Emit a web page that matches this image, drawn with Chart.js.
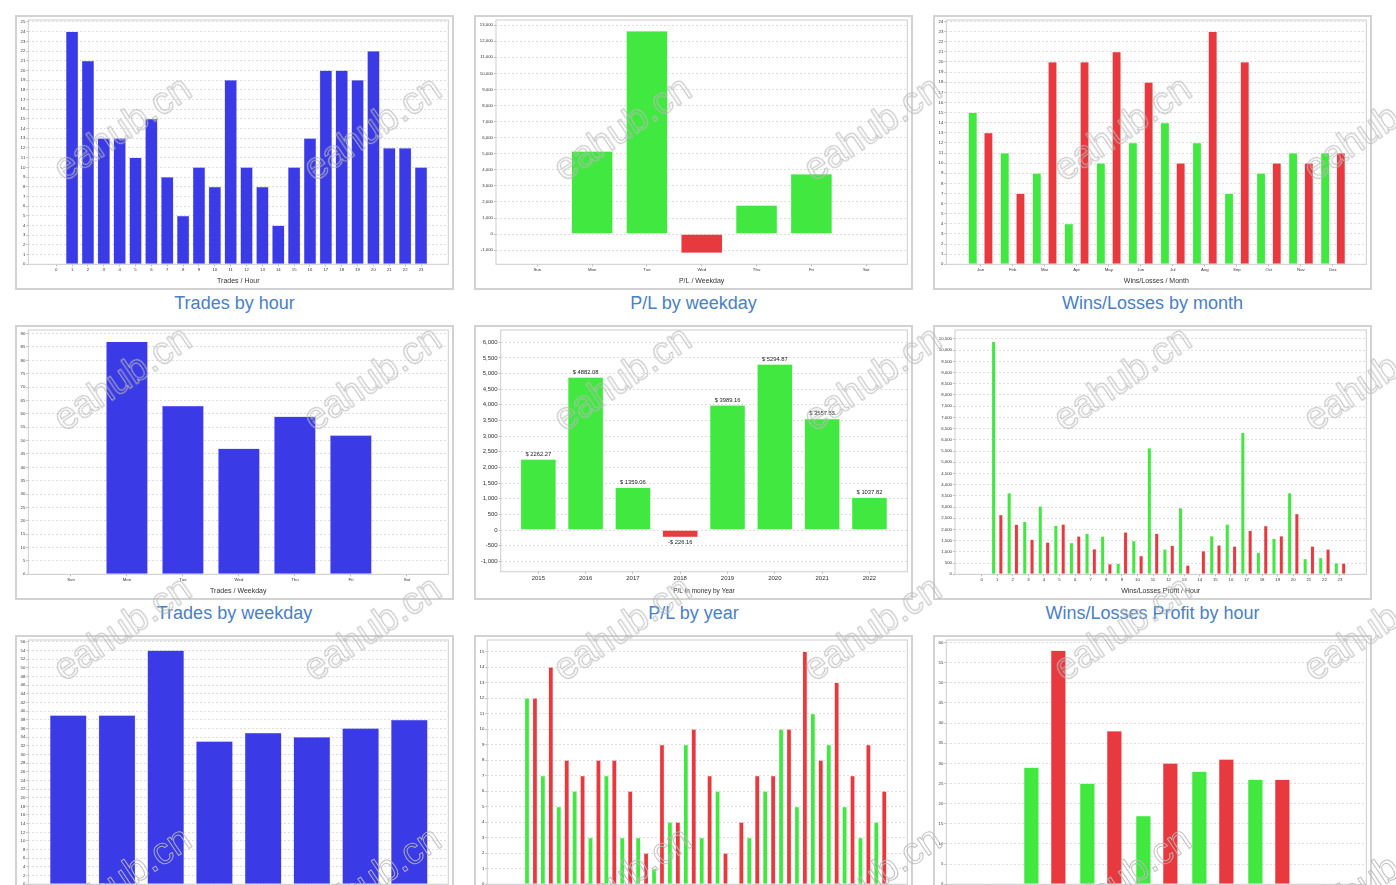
<!DOCTYPE html>
<html>
<head>
<meta charset="utf-8">
<title>Trade statistics</title>
<script src="https://cdn.jsdelivr.net/npm/chart.js@4.4.0/dist/chart.umd.min.js"></script>
<style>
body { margin:0; background:#fff; width:1396px; height:885px; overflow:hidden; position:relative; font-family:"Liberation Sans", Arial, sans-serif; }
.panel { position:absolute; width:439px; height:275px; box-sizing:border-box; border:2px solid #d2d2d2; background:#fff; }
.panel canvas { position:absolute; left:0; top:0; }
.title { position:absolute; width:439px; text-align:center; font-size:18px; line-height:20px; color:#4a80c4; }
.wm { position:absolute; white-space:nowrap; font-size:38px; line-height:40px; color:transparent;
      -webkit-text-stroke:1px rgba(185,185,185,0.9); transform:translate(-50%,-50%) rotate(-34deg); pointer-events:none; }
</style>
</head>
<body>

<div class="panel" style="left:15px;top:15px"><canvas id="hourChart" width="435" height="271"></canvas></div>
<div class="title" style="left:15px;top:293px">Trades by hour</div>
<div class="panel" style="left:474px;top:15px"><canvas id="plWeekdayChart" width="435" height="271"></canvas></div>
<div class="title" style="left:474px;top:293px">P/L by weekday</div>
<div class="panel" style="left:933px;top:15px"><canvas id="wlMonthChart" width="435" height="271"></canvas></div>
<div class="title" style="left:933px;top:293px">Wins/Losses by month</div>

<div class="panel" style="left:15px;top:325px"><canvas id="weekdayChart" width="435" height="271"></canvas></div>
<div class="title" style="left:15px;top:603px">Trades by weekday</div>
<div class="panel" style="left:474px;top:325px"><canvas id="plYearChart" width="435" height="271"></canvas></div>
<div class="title" style="left:474px;top:603px">P/L by year</div>
<div class="panel" style="left:933px;top:325px"><canvas id="wlProfitHourChart" width="435" height="271"></canvas></div>
<div class="title" style="left:933px;top:603px">Wins/Losses Profit by hour</div>

<div class="panel" style="left:15px;top:635px"><canvas id="yearChart" width="435" height="271"></canvas></div>
<div class="title" style="left:15px;top:913px">Trades by year</div>
<div class="panel" style="left:474px;top:635px"><canvas id="wlHourChart" width="435" height="271"></canvas></div>
<div class="title" style="left:474px;top:913px">Wins/Losses by hour</div>
<div class="panel" style="left:933px;top:635px"><canvas id="wlWeekdayChart" width="435" height="271"></canvas></div>
<div class="title" style="left:933px;top:913px">Wins/Losses by weekday</div>

<script>
// 데이터
var hourLabels = ['0','1','2','3','4','5','6','7','8','9','10','11','12','13','14','15','16','17','18','19','20','21','22','23'];
var weekdayLabels = ['Sun','Mon','Tue','Wed','Thu','Fri','Sat'];
var monthLabels = ['Jan','Feb','Mar','Apr','May','Jun','Jul','Aug','Sep','Oct','Nov','Dec'];
var yearLabels = ['2015','2016','2017','2018','2019','2020','2021','2022'];

var tradesByHour = [0,24,21,13,13,11,15,9,5,10,8,19,10,8,4,10,13,20,20,19,22,12,12,10];
var plByWeekday = [0,5150,12630,-1180,1790,3740,0];
var winsByMonth = [15,11,9,4,10,12,14,12,7,9,11,11];
var lossesByMonth = [13,7,20,20,21,18,10,23,20,10,10,11];

var tradesByWeekday = [0,87,63,47,59,52,0];
var plByYear = [2262.27,4882.08,1359.06,-226.16,3989.16,5294.87,3557.55,1037.82];
var winProfitByHour = [0,10380,3630,2350,3040,2170,1400,1820,1700,480,1500,5630,1120,2960,0,1710,2230,6320,970,1590,3630,690,740,500];
var lossProfitByHour = [0,2650,2220,1550,1430,2230,1700,1130,460,1880,830,1820,1280,400,1040,1300,1250,1950,2160,1710,2700,1250,1120,490];

var tradesByYear = [39,39,54,33,35,34,36,38];
var winsByHour = [0,12,7,5,6,3,7,3,3,1,4,9,3,6,0,3,6,10,5,11,9,5,3,4];
var lossesByHour = [0,12,14,8,7,8,8,6,2,9,4,10,7,2,4,7,7,10,15,8,13,7,9,6];
var winsByWeekday = [0,29,25,17,28,26,0];
var lossesByWeekday = [0,58,38,30,31,26,0];

var FONT = '"Liberation Sans", Arial, sans-serif';
var BLUE = '#3a3ae6', BLUE_EDGE = '#a0a0f0';
var GREEN = '#40e840', GREEN_EDGE = '#aaf2aa';
var RED = '#e8393e', RED_EDGE = '#f2a8aa';

function plColor(ctx) { return ctx.raw < 0 ? RED : GREEN; }
function plEdge(ctx) { return ctx.raw < 0 ? RED_EDGE : GREEN_EDGE; }

//플롯 영역 테두리
var plotFrame = {
	id : 'plotFrame',
	beforeDatasetsDraw : function(chart) {
		var a = chart.chartArea, ctx = chart.ctx;
		ctx.save();
		ctx.strokeStyle = '#cdcdcd';
		ctx.lineWidth = 1;
		ctx.strokeRect(a.left, a.top, a.right - a.left, a.bottom - a.top);
		ctx.restore();
	}
};

//막대 위 금액 표시
var moneyLabels = {
	id : 'moneyLabels',
	afterDatasetsDraw : function(chart, args, opts) {
		if (!opts.show) return;
		var ctx = chart.ctx, meta = chart.getDatasetMeta(0), data = chart.data.datasets[0].data;
		ctx.save();
		ctx.font = '5.8px ' + FONT;
		ctx.fillStyle = '#222';
		ctx.textAlign = 'center';
		ctx.textBaseline = 'middle';
		meta.data.forEach(function(bar, i) {
			var v = data[i];
			var text = (v < 0 ? '-$ ' : '$ ') + Math.abs(v).toFixed(2);
			ctx.fillText(text, bar.x, v < 0 ? bar.y + 5 : bar.y - 5);
		});
		ctx.restore();
	}
};

function drawPanel(id, p) {
	var tickFont = p.tickFont || 4.3;
	var datasets = p.series.map(function(s) {
		return {
			data : s.data,
			backgroundColor : s.color,
			borderColor : s.edge,
			borderWidth : 0.45,
			borderSkipped : 'start',
			categoryPercentage : p.cat,
			barPercentage : p.bar
		};
	});
	return new Chart(document.getElementById(id), {
		type : 'bar',
		data : {
			labels : p.labels.map(function(l, i) { return i; }),
			datasets : datasets
		},
		options : {
			responsive : false,
			animation : false,
			layout : { padding : { top : 3, right : 3.7, left : 0, bottom : 0 } },
			plugins : {
				legend : { display : false },
				tooltip : { enabled : false },
				moneyLabels : { show : !!p.money }
			},
			scales : {
				x : {
					type : 'linear',
					min : p.xMin,
					max : p.xMax,
					offset : false,
					grid : { drawOnChartArea : false, drawTicks : true, tickLength : 2, tickColor : '#bbb', offset : false },
					border : { display : false },
					afterBuildTicks : function(s) {
						s.ticks = p.labels.map(function(l, i) { return { value : i }; });
					},
					afterFit : function(s) {
						s.height = p.xH || 23.7;
						s.paddingLeft = 0;
						s.paddingRight = 0;
					},
					ticks : {
						autoSkip : false,
						maxRotation : 0,
						padding : 1,
						color : '#333',
						font : { size : tickFont, family : FONT },
						callback : function(v) { return p.labels[v]; }
					},
					title : {
						display : true,
						text : p.axisTitle,
						color : '#333',
						font : { size : p.titleFont || 7, family : FONT },
						padding : { top : 0, bottom : 2.8 }
					}
				},
				y : {
					min : p.yMin || 0,
					max : p.yMax,
					grid : { color : '#dedede', tickLength : 2, tickColor : '#bbb' },
					border : { display : false, dash : [2, 2] },
					//눈금은 step 배수로만
					afterBuildTicks : function(s) {
						var ticks = [];
						for (var v = Math.ceil(s.min / p.step) * p.step; v <= s.max; v += p.step) {
							ticks.push({ value : v });
						}
						s.ticks = ticks;
					},
					afterFit : function(s) {
						s.width = p.yW;
						s.paddingTop = 0;
						s.paddingBottom = 0;
					},
					ticks : {
						autoSkip : false,
						padding : 1,
						color : '#333',
						font : { size : tickFont, family : FONT },
						callback : function(v) { return v.toLocaleString('en-US'); }
					}
				}
			}
		},
		plugins : [ plotFrame, moneyLabels ]
	});
}

drawPanel('hourChart', {
	labels : hourLabels, series : [ { data : tradesByHour, color : BLUE, edge : BLUE_EDGE } ],
	xMin : -1.76, xMax : 24.72, cat : 1, bar : 0.78,
	yMax : 25.2, step : 1, yW : 11.3, axisTitle : 'Trades / Hour'
});
drawPanel('plWeekdayChart', {
	labels : weekdayLabels, series : [ { data : plByWeekday, color : plColor, edge : plEdge } ],
	xMin : -0.754, xMax : 6.75, cat : 1, bar : 0.754,
	yMin : -1880, yMax : 13320, step : 1000, yW : 20, axisTitle : 'P/L / Weekday'
});
drawPanel('wlMonthChart', {
	labels : monthLabels,
	series : [ { data : winsByMonth, color : GREEN, edge : GREEN_EDGE }, { data : lossesByMonth, color : RED, edge : RED_EDGE } ],
	xMin : -1.07, xMax : 12.04, cat : 0.98, bar : 0.55,
	yMax : 24.15, step : 1, yW : 11.3, axisTitle : 'Wins/Losses / Month'
});
drawPanel('weekdayChart', {
	labels : weekdayLabels, series : [ { data : tradesByWeekday, color : BLUE, edge : BLUE_EDGE } ],
	xMin : -0.762, xMax : 6.74, cat : 1, bar : 0.744,
	yMax : 91.35, step : 5, yW : 11.3, axisTitle : 'Trades / Weekday'
});
drawPanel('plYearChart', {
	labels : yearLabels, series : [ { data : plByYear, color : plColor, edge : plEdge } ],
	xMin : -0.795, xMax : 7.8, cat : 1, bar : 0.747,
	yMin : -1330, yMax : 6390, step : 500, yW : 24.7, xH : 26.3, tickFont : 6, titleFont : 6.5,
	axisTitle : 'P/L in money by Year', money : true
});
drawPanel('wlProfitHourChart', {
	labels : hourLabels,
	series : [ { data : winProfitByHour, color : GREEN, edge : GREEN_EDGE }, { data : lossProfitByHour, color : RED, edge : RED_EDGE } ],
	xMin : -1.71, xMax : 24.69, cat : 0.94, bar : 0.52,
	yMax : 10900, step : 500, yW : 20, axisTitle : 'Wins/Losses Profit / Hour'
});
drawPanel('yearChart', {
	labels : yearLabels, series : [ { data : tradesByYear, color : BLUE, edge : BLUE_EDGE } ],
	xMin : -0.82, xMax : 7.8, cat : 1, bar : 0.753,
	yMax : 56.4, step : 2, yW : 11.3, axisTitle : 'Trades / Year'
});
drawPanel('wlHourChart', {
	labels : hourLabels,
	series : [ { data : winsByHour, color : GREEN, edge : GREEN_EDGE }, { data : lossesByHour, color : RED, edge : RED_EDGE } ],
	xMin : -1.75, xMax : 24.7, cat : 1, bar : 0.58,
	yMax : 15.75, step : 1, yW : 11.3, axisTitle : 'Wins/Losses / Hour'
});
drawPanel('wlWeekdayChart', {
	labels : weekdayLabels,
	series : [ { data : winsByWeekday, color : GREEN, edge : GREEN_EDGE }, { data : lossesByWeekday, color : RED, edge : RED_EDGE } ],
	xMin : -0.76, xMax : 6.74, cat : 0.964, bar : 0.556,
	yMax : 60.6, step : 5, yW : 11.3, axisTitle : 'Wins/Losses / Weekday'
});

//워터마크
for (var r = 0; r < 4; r++) {
	for (var c = 0; c < 6; c++) {
		var wm = document.createElement('div');
		wm.className = 'wm';
		wm.textContent = 'eahub.cn';
		wm.style.left = (122 + 250 * c) + 'px';
		wm.style.top = (128 + 250 * r) + 'px';
		document.body.appendChild(wm);
	}
}
</script>
</body>
</html>
